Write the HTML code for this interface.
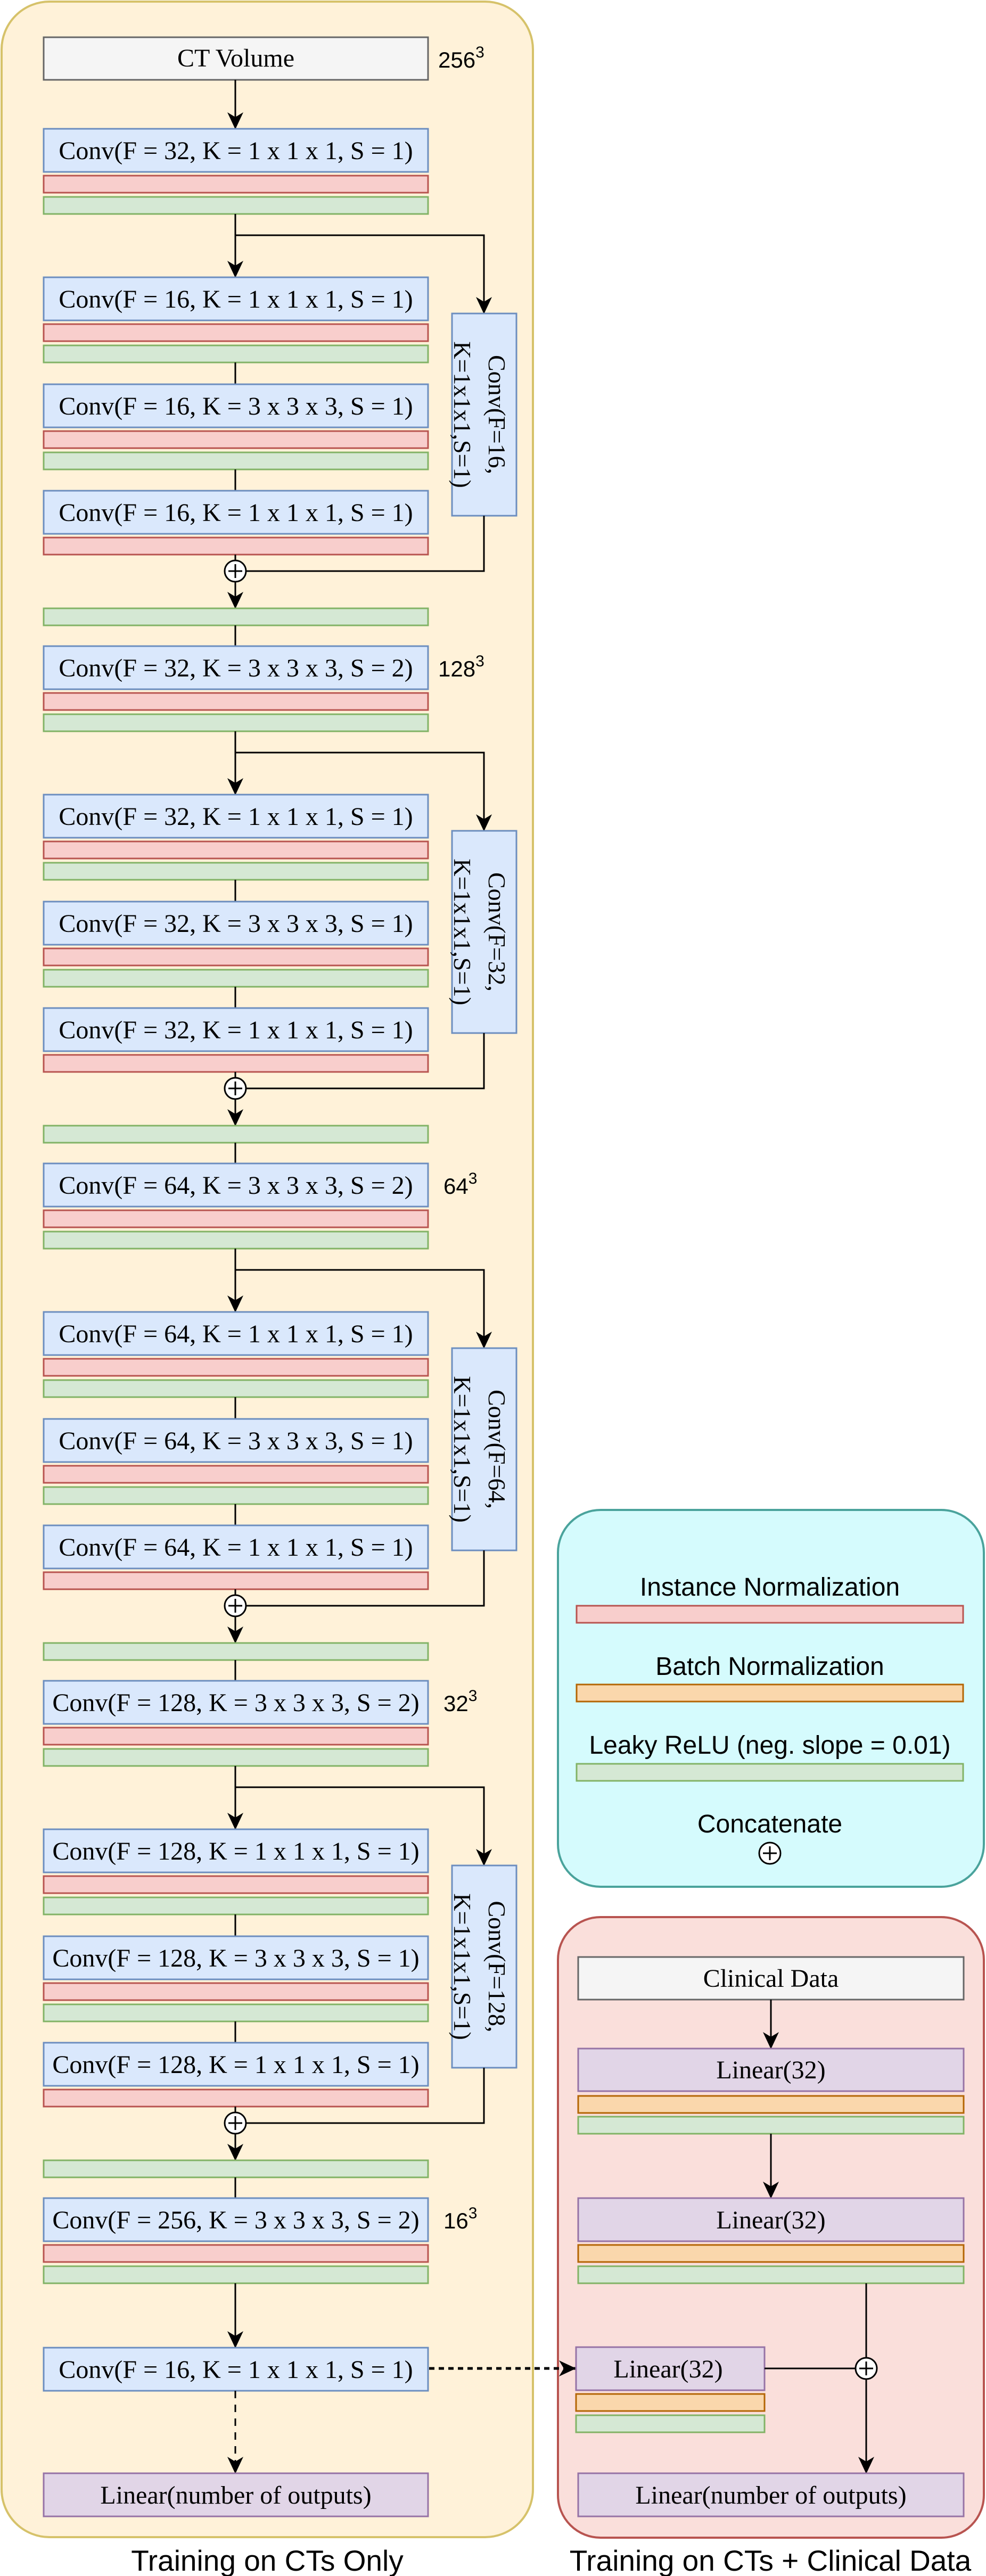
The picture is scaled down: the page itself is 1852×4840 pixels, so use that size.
<!DOCTYPE html>
<html><head><meta charset="utf-8"><style>
html,body{margin:0;padding:0;background:#fff;}
svg{display:block;}
.s{font-family:"Liberation Serif",serif;font-size:48px;fill:#000;}
.v{font-family:"Liberation Serif",serif;font-size:46px;fill:#000;}
.a{font-family:"Liberation Sans",sans-serif;fill:#000;}
.cv{fill:#dae8fc;stroke:#6c8ebf;stroke-width:3;}
.rd{fill:#f8cecc;stroke:#b85450;stroke-width:3;}
.gr{fill:#d5e8d4;stroke:#82b366;stroke-width:3;}
.pu{fill:#e1d5e7;stroke:#9673a6;stroke-width:3;}
.or{fill:#fad7ac;stroke:#b46504;stroke-width:3;}
.gy{fill:#f5f5f5;stroke:#666666;stroke-width:3;}
.ln{stroke:#000;stroke-width:3;fill:none;}
.ar{stroke:#000;stroke-width:3;fill:none;marker-end:url(#m);}
.pc{fill:#fff;stroke:#000;stroke-width:3;}
</style></head><body>
<svg width="1852" height="4840" viewBox="0 0 1852 4840" xmlns="http://www.w3.org/2000/svg">
<defs>
<marker id="m" markerUnits="userSpaceOnUse" markerWidth="32" markerHeight="32" viewBox="0 0 32 32" refX="31" refY="16" orient="auto">
<path d="M0,1 L32,16 L0,31 L9,16 z" fill="#000"/>
</marker>
<g id="plus"><circle cx="0" cy="0" r="20" class="pc"/><path d="M-13,0 H13 M0,-13 V13" stroke="#000" stroke-width="3"/></g>
</defs>

<rect x="3" y="3" width="998" height="4764" rx="90" fill="#fff2d9" stroke="#d6c26a" stroke-width="4"/>
<rect x="1048" y="2837" width="800" height="708" rx="80" fill="#d5fbfd" stroke="#4aa39c" stroke-width="4"/>
<rect x="1048" y="3602" width="800" height="1166" rx="80" fill="#fadfdb" stroke="#b85450" stroke-width="4"/>

<rect x="82" y="70" width="722" height="80" class="gy"/>
<text x="443" y="125" class="s" text-anchor="middle" fill="#333">CT Volume</text>
<text x="823" y="127" class="a" font-size="42">256<tspan font-size="30" dy="-19">3</tspan></text>
<line x1="442" y1="150" x2="442" y2="242" class="ar"/>

<g transform="translate(0,242)">
<rect x="82" y="0" width="722" height="81" class="cv"/><text x="443" y="57" class="s" text-anchor="middle">Conv(F = 32, K = 1 x 1 x 1, S = 1)</text>
<rect x="82" y="88" width="722" height="32" class="rd"/><rect x="82" y="128" width="722" height="32" class="gr"/>
<line x1="442" y1="160" x2="442" y2="279" class="ar"/>
<polyline points="442,200 909,200 909,347" class="ar"/>
<rect x="82" y="279" width="722" height="81" class="cv"/><text x="443" y="336" class="s" text-anchor="middle">Conv(F = 16, K = 1 x 1 x 1, S = 1)</text>
<rect x="82" y="367" width="722" height="32" class="rd"/><rect x="82" y="407" width="722" height="32" class="gr"/>
<line x1="442" y1="439" x2="442" y2="480" class="ln"/>
<rect x="82" y="480" width="722" height="81" class="cv"/><text x="443" y="537" class="s" text-anchor="middle">Conv(F = 16, K = 3 x 3 x 3, S = 1)</text>
<rect x="82" y="568" width="722" height="32" class="rd"/><rect x="82" y="608" width="722" height="32" class="gr"/>
<line x1="442" y1="640" x2="442" y2="680" class="ln"/>
<rect x="82" y="680" width="722" height="81" class="cv"/><text x="443" y="737" class="s" text-anchor="middle">Conv(F = 16, K = 1 x 1 x 1, S = 1)</text>
<rect x="82" y="768" width="722" height="32" class="rd"/>
<line x1="442" y1="800" x2="442" y2="811" class="ln"/>
<rect x="849" y="347" width="121" height="380" class="cv"/>
<text transform="translate(918,537) rotate(90)" class="v" text-anchor="middle">Conv(F=16,</text>
<text transform="translate(853,537) rotate(90)" class="v" text-anchor="middle">K=1x1x1,S=1)</text>
<polyline points="909,727 909,831 462,831" class="ln"/>
<use href="#plus" x="442" y="831"/>
<line x1="442" y1="851" x2="442" y2="901" class="ar"/>
<rect x="82" y="901" width="722" height="32" class="gr"/>
<line x1="442" y1="933" x2="442" y2="972" class="ln"/>
</g>

<g transform="translate(0,1214)">
<rect x="82" y="0" width="722" height="81" class="cv"/><text x="443" y="57" class="s" text-anchor="middle">Conv(F = 32, K = 3 x 3 x 3, S = 2)</text>
<text x="823" y="57" class="a" font-size="42">128<tspan font-size="30" dy="-19">3</tspan></text>
<rect x="82" y="88" width="722" height="32" class="rd"/><rect x="82" y="128" width="722" height="32" class="gr"/>
<line x1="442" y1="160" x2="442" y2="279" class="ar"/>
<polyline points="442,200 909,200 909,347" class="ar"/>
<rect x="82" y="279" width="722" height="81" class="cv"/><text x="443" y="336" class="s" text-anchor="middle">Conv(F = 32, K = 1 x 1 x 1, S = 1)</text>
<rect x="82" y="367" width="722" height="32" class="rd"/><rect x="82" y="407" width="722" height="32" class="gr"/>
<line x1="442" y1="439" x2="442" y2="480" class="ln"/>
<rect x="82" y="480" width="722" height="81" class="cv"/><text x="443" y="537" class="s" text-anchor="middle">Conv(F = 32, K = 3 x 3 x 3, S = 1)</text>
<rect x="82" y="568" width="722" height="32" class="rd"/><rect x="82" y="608" width="722" height="32" class="gr"/>
<line x1="442" y1="640" x2="442" y2="680" class="ln"/>
<rect x="82" y="680" width="722" height="81" class="cv"/><text x="443" y="737" class="s" text-anchor="middle">Conv(F = 32, K = 1 x 1 x 1, S = 1)</text>
<rect x="82" y="768" width="722" height="32" class="rd"/>
<line x1="442" y1="800" x2="442" y2="811" class="ln"/>
<rect x="849" y="347" width="121" height="380" class="cv"/>
<text transform="translate(918,537) rotate(90)" class="v" text-anchor="middle">Conv(F=32,</text>
<text transform="translate(853,537) rotate(90)" class="v" text-anchor="middle">K=1x1x1,S=1)</text>
<polyline points="909,727 909,831 462,831" class="ln"/>
<use href="#plus" x="442" y="831"/>
<line x1="442" y1="851" x2="442" y2="901" class="ar"/>
<rect x="82" y="901" width="722" height="32" class="gr"/>
<line x1="442" y1="933" x2="442" y2="972" class="ln"/>
</g>

<g transform="translate(0,2186)">
<rect x="82" y="0" width="722" height="81" class="cv"/><text x="443" y="57" class="s" text-anchor="middle">Conv(F = 64, K = 3 x 3 x 3, S = 2)</text>
<text x="833" y="57" class="a" font-size="42">64<tspan font-size="30" dy="-19">3</tspan></text>
<rect x="82" y="88" width="722" height="32" class="rd"/><rect x="82" y="128" width="722" height="32" class="gr"/>
<line x1="442" y1="160" x2="442" y2="279" class="ar"/>
<polyline points="442,200 909,200 909,347" class="ar"/>
<rect x="82" y="279" width="722" height="81" class="cv"/><text x="443" y="336" class="s" text-anchor="middle">Conv(F = 64, K = 1 x 1 x 1, S = 1)</text>
<rect x="82" y="367" width="722" height="32" class="rd"/><rect x="82" y="407" width="722" height="32" class="gr"/>
<line x1="442" y1="439" x2="442" y2="480" class="ln"/>
<rect x="82" y="480" width="722" height="81" class="cv"/><text x="443" y="537" class="s" text-anchor="middle">Conv(F = 64, K = 3 x 3 x 3, S = 1)</text>
<rect x="82" y="568" width="722" height="32" class="rd"/><rect x="82" y="608" width="722" height="32" class="gr"/>
<line x1="442" y1="640" x2="442" y2="680" class="ln"/>
<rect x="82" y="680" width="722" height="81" class="cv"/><text x="443" y="737" class="s" text-anchor="middle">Conv(F = 64, K = 1 x 1 x 1, S = 1)</text>
<rect x="82" y="768" width="722" height="32" class="rd"/>
<line x1="442" y1="800" x2="442" y2="811" class="ln"/>
<rect x="849" y="347" width="121" height="380" class="cv"/>
<text transform="translate(918,537) rotate(90)" class="v" text-anchor="middle">Conv(F=64,</text>
<text transform="translate(853,537) rotate(90)" class="v" text-anchor="middle">K=1x1x1,S=1)</text>
<polyline points="909,727 909,831 462,831" class="ln"/>
<use href="#plus" x="442" y="831"/>
<line x1="442" y1="851" x2="442" y2="901" class="ar"/>
<rect x="82" y="901" width="722" height="32" class="gr"/>
<line x1="442" y1="933" x2="442" y2="972" class="ln"/>
</g>

<g transform="translate(0,3158)">
<rect x="82" y="0" width="722" height="81" class="cv"/><text x="443" y="57" class="s" text-anchor="middle">Conv(F = 128, K = 3 x 3 x 3, S = 2)</text>
<text x="833" y="57" class="a" font-size="42">32<tspan font-size="30" dy="-19">3</tspan></text>
<rect x="82" y="88" width="722" height="32" class="rd"/><rect x="82" y="128" width="722" height="32" class="gr"/>
<line x1="442" y1="160" x2="442" y2="279" class="ar"/>
<polyline points="442,200 909,200 909,347" class="ar"/>
<rect x="82" y="279" width="722" height="81" class="cv"/><text x="443" y="336" class="s" text-anchor="middle">Conv(F = 128, K = 1 x 1 x 1, S = 1)</text>
<rect x="82" y="367" width="722" height="32" class="rd"/><rect x="82" y="407" width="722" height="32" class="gr"/>
<line x1="442" y1="439" x2="442" y2="480" class="ln"/>
<rect x="82" y="480" width="722" height="81" class="cv"/><text x="443" y="537" class="s" text-anchor="middle">Conv(F = 128, K = 3 x 3 x 3, S = 1)</text>
<rect x="82" y="568" width="722" height="32" class="rd"/><rect x="82" y="608" width="722" height="32" class="gr"/>
<line x1="442" y1="640" x2="442" y2="680" class="ln"/>
<rect x="82" y="680" width="722" height="81" class="cv"/><text x="443" y="737" class="s" text-anchor="middle">Conv(F = 128, K = 1 x 1 x 1, S = 1)</text>
<rect x="82" y="768" width="722" height="32" class="rd"/>
<line x1="442" y1="800" x2="442" y2="811" class="ln"/>
<rect x="849" y="347" width="121" height="380" class="cv"/>
<text transform="translate(918,537) rotate(90)" class="v" text-anchor="middle">Conv(F=128,</text>
<text transform="translate(853,537) rotate(90)" class="v" text-anchor="middle">K=1x1x1,S=1)</text>
<polyline points="909,727 909,831 462,831" class="ln"/>
<use href="#plus" x="442" y="831"/>
<line x1="442" y1="851" x2="442" y2="901" class="ar"/>
<rect x="82" y="901" width="722" height="32" class="gr"/>
<line x1="442" y1="933" x2="442" y2="972" class="ln"/>
</g>

<rect x="82" y="4130" width="722" height="81" class="cv"/><text x="443" y="4187" class="s" text-anchor="middle">Conv(F = 256, K = 3 x 3 x 3, S = 2)</text>
<text x="833" y="4187" class="a" font-size="42">16<tspan font-size="30" dy="-19">3</tspan></text>
<rect x="82" y="4218" width="722" height="32" class="rd"/><rect x="82" y="4258" width="722" height="32" class="gr"/>
<line x1="442" y1="4290" x2="442" y2="4411" class="ar"/>
<rect x="82" y="4411" width="722" height="81" class="cv"/><text x="443" y="4468" class="s" text-anchor="middle">Conv(F = 16, K = 1 x 1 x 1, S = 1)</text>
<line x1="442" y1="4492" x2="442" y2="4647" stroke="#000" stroke-width="3" stroke-dasharray="14 12" marker-end="url(#m)"/>
<rect x="82" y="4647" width="722" height="81" class="pu"/><text x="443" y="4704" class="s" text-anchor="middle">Linear(number of outputs)</text>
<line x1="806" y1="4450" x2="1081" y2="4450" stroke="#000" stroke-width="5" stroke-dasharray="10 8" marker-end="url(#m)"/>

<text x="1446" y="2998" class="a" font-size="48" text-anchor="middle">Instance Normalization</text>
<rect x="1083" y="3017" width="726" height="32" class="rd"/>
<text x="1446" y="3147" class="a" font-size="48" text-anchor="middle">Batch Normalization</text>
<rect x="1083" y="3165" width="726" height="32" class="or"/>
<text x="1446" y="3295" class="a" font-size="48" text-anchor="middle">Leaky ReLU (neg. slope = 0.01)</text>
<rect x="1083" y="3314" width="726" height="32" class="gr"/>
<text x="1446" y="3443" class="a" font-size="48" text-anchor="middle">Concatenate</text>
<use href="#plus" x="1446" y="3482"/>

<rect x="1086" y="3677" width="724" height="80" class="gy"/>
<text x="1448" y="3733" class="s" text-anchor="middle" fill="#333">Clinical Data</text>
<line x1="1448" y1="3757" x2="1448" y2="3849" class="ar"/>
<rect x="1086" y="3849" width="724" height="80" class="pu"/><text x="1448" y="3905" class="s" text-anchor="middle">Linear(32)</text>
<rect x="1086" y="3938" width="724" height="32" class="or"/><rect x="1086" y="3977" width="724" height="32" class="gr"/>
<line x1="1448" y1="4009" x2="1448" y2="4130" class="ar"/>
<rect x="1086" y="4130" width="724" height="81" class="pu"/><text x="1448" y="4187" class="s" text-anchor="middle">Linear(32)</text>
<rect x="1086" y="4218" width="724" height="32" class="or"/><rect x="1086" y="4258" width="724" height="32" class="gr"/>
<line x1="1627" y1="4290" x2="1627" y2="4430" class="ln"/>
<line x1="1627" y1="4470" x2="1627" y2="4647" class="ar"/>
<rect x="1082" y="4410" width="354" height="81" class="pu"/><text x="1255" y="4467" class="s" text-anchor="middle">Linear(32)</text>
<rect x="1082" y="4498" width="354" height="32" class="or"/><rect x="1082" y="4538" width="354" height="32" class="gr"/>
<line x1="1436" y1="4450" x2="1607" y2="4450" class="ln"/>
<use href="#plus" x="1627" y="4450"/>
<rect x="1086" y="4647" width="724" height="81" class="pu"/><text x="1448" y="4704" class="s" text-anchor="middle">Linear(number of outputs)</text>

<text x="502" y="4830" class="a" font-size="55" text-anchor="middle">Training on CTs Only</text>
<text x="1447" y="4830" class="a" font-size="55" text-anchor="middle">Training on CTs + Clinical Data</text>
</svg>
</body></html>
